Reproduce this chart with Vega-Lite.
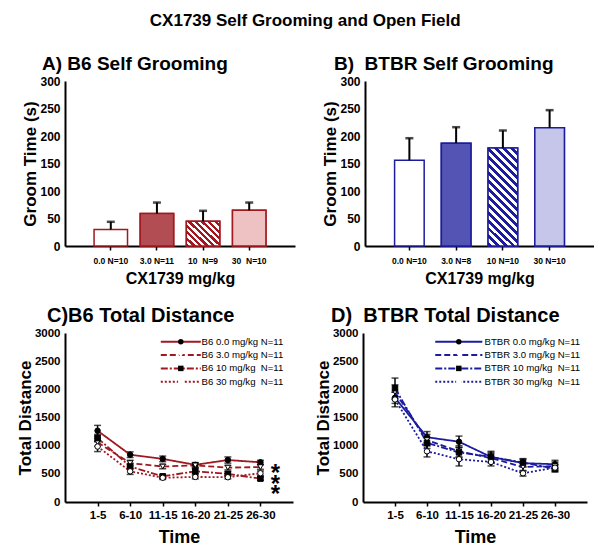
{
  "$schema": "https://vega.github.io/schema/vega-lite/v6.json",
  "background": "white",
  "padding": {"left": 16, "top": 12, "right": 0, "bottom": 0},
  "title": {"text": "CX1739 Self Grooming and Open Field", "fontSize": 17, "fontWeight": "bold", "color": "black", "anchor": "middle", "offset": 25},
  "config": {
    "font": "Liberation Sans",
    "view": {"stroke": null},
    "axis": {"domainColor": "black", "domainWidth": 2, "tickColor": "black", "tickWidth": 1.5, "tickSize": 4, "labelColor": "black", "titleColor": "black", "labelFontWeight": "bold", "titleFontWeight": "bold", "grid": false, "labelOverlap": false},
    "axisY": {"ticks": false, "labelPadding": 5, "titlePadding": 0, "format": "d"},
    "axisX": {"labelPadding": 6},
    "title": {"color": "black"}
  },
  "resolve": {"scale": {"strokeDash": "independent", "shape": "independent", "fill": "independent"}, "legend": {"strokeDash": "independent", "shape": "independent", "fill": "independent"}},
  "datasets": {
    "b6groom": [
      {"mgkg": "0.0", "dose": "0.0 N=10", "mean": 30, "hi": 44},
      {"mgkg": "3.0", "dose": "3.0 N=11", "mean": 59, "hi": 79},
      {"mgkg": "10", "dose": "10\u00a0 N=9", "mean": 45, "hi": 64},
      {"mgkg": "30", "dose": "30\u00a0 N=10", "mean": 65, "hi": 79}
    ],
    "btbrgroom": [
      {"mgkg": "0.0", "dose": "0.0 N=10", "mean": 156, "hi": 196},
      {"mgkg": "3.0", "dose": "3.0 N=8", "mean": 187, "hi": 216},
      {"mgkg": "10", "dose": "10 N=10", "mean": 178, "hi": 210},
      {"mgkg": "30", "dose": "30 N=10", "mean": 215, "hi": 247}
    ],
    "b6dist": [
      {"group": "B6 0.0 mg/kg N=11", "time": "1-5", "dist": 1265, "lo": 1175, "hi": 1360},
      {"group": "B6 0.0 mg/kg N=11", "time": "6-10", "dist": 840, "lo": 790, "hi": 890},
      {"group": "B6 0.0 mg/kg N=11", "time": "11-15", "dist": 765, "lo": 715, "hi": 815},
      {"group": "B6 0.0 mg/kg N=11", "time": "16-20", "dist": 660, "lo": 620, "hi": 700},
      {"group": "B6 0.0 mg/kg N=11", "time": "21-25", "dist": 745, "lo": 690, "hi": 800},
      {"group": "B6 0.0 mg/kg N=11", "time": "26-30", "dist": 705, "lo": 670, "hi": 740},
      {"group": "B6 3.0 mg/kg N=11", "time": "1-5", "dist": 1060, "lo": 990, "hi": 1130},
      {"group": "B6 3.0 mg/kg N=11", "time": "6-10", "dist": 690, "lo": 640, "hi": 740},
      {"group": "B6 3.0 mg/kg N=11", "time": "11-15", "dist": 630, "lo": 590, "hi": 670},
      {"group": "B6 3.0 mg/kg N=11", "time": "16-20", "dist": 650, "lo": 610, "hi": 690},
      {"group": "B6 3.0 mg/kg N=11", "time": "21-25", "dist": 610, "lo": 570, "hi": 650},
      {"group": "B6 3.0 mg/kg N=11", "time": "26-30", "dist": 620, "lo": 580, "hi": 660},
      {"group": "B6 10 mg/kg\u00a0 N=11", "time": "1-5", "dist": 1135, "lo": 1070, "hi": 1200},
      {"group": "B6 10 mg/kg\u00a0 N=11", "time": "6-10", "dist": 630, "lo": 580, "hi": 680},
      {"group": "B6 10 mg/kg\u00a0 N=11", "time": "11-15", "dist": 455, "lo": 420, "hi": 490},
      {"group": "B6 10 mg/kg\u00a0 N=11", "time": "16-20", "dist": 545, "lo": 500, "hi": 590},
      {"group": "B6 10 mg/kg\u00a0 N=11", "time": "21-25", "dist": 500, "lo": 460, "hi": 540},
      {"group": "B6 10 mg/kg\u00a0 N=11", "time": "26-30", "dist": 415, "lo": 385, "hi": 445},
      {"group": "B6 30 mg/kg\u00a0 N=11", "time": "1-5", "dist": 985, "lo": 895, "hi": 1075},
      {"group": "B6 30 mg/kg\u00a0 N=11", "time": "6-10", "dist": 545, "lo": 490, "hi": 600},
      {"group": "B6 30 mg/kg\u00a0 N=11", "time": "11-15", "dist": 430, "lo": 400, "hi": 460},
      {"group": "B6 30 mg/kg\u00a0 N=11", "time": "16-20", "dist": 445, "lo": 410, "hi": 480},
      {"group": "B6 30 mg/kg\u00a0 N=11", "time": "21-25", "dist": 440, "lo": 410, "hi": 470},
      {"group": "B6 30 mg/kg\u00a0 N=11", "time": "26-30", "dist": 510, "lo": 470, "hi": 550}
    ],
    "btbrdist": [
      {"group": "BTBR 0.0 mg/kg N=11", "time": "1-5", "dist": 1850, "lo": 1750, "hi": 1950},
      {"group": "BTBR 0.0 mg/kg N=11", "time": "6-10", "dist": 1150, "lo": 1050, "hi": 1250},
      {"group": "BTBR 0.0 mg/kg N=11", "time": "11-15", "dist": 1070, "lo": 970, "hi": 1170},
      {"group": "BTBR 0.0 mg/kg N=11", "time": "16-20", "dist": 800, "lo": 700, "hi": 900},
      {"group": "BTBR 0.0 mg/kg N=11", "time": "21-25", "dist": 690, "lo": 620, "hi": 760},
      {"group": "BTBR 0.0 mg/kg N=11", "time": "26-30", "dist": 670, "lo": 600, "hi": 740},
      {"group": "BTBR 3.0 mg/kg N=11", "time": "1-5", "dist": 1950, "lo": 1820, "hi": 2080},
      {"group": "BTBR 3.0 mg/kg N=11", "time": "6-10", "dist": 1100, "lo": 1000, "hi": 1200},
      {"group": "BTBR 3.0 mg/kg N=11", "time": "11-15", "dist": 900, "lo": 800, "hi": 1000},
      {"group": "BTBR 3.0 mg/kg N=11", "time": "16-20", "dist": 780, "lo": 700, "hi": 860},
      {"group": "BTBR 3.0 mg/kg N=11", "time": "21-25", "dist": 620, "lo": 550, "hi": 690},
      {"group": "BTBR 3.0 mg/kg N=11", "time": "26-30", "dist": 640, "lo": 570, "hi": 710},
      {"group": "BTBR 10 mg/kg\u00a0 N=11", "time": "1-5", "dist": 2020, "lo": 1840, "hi": 2200},
      {"group": "BTBR 10 mg/kg\u00a0 N=11", "time": "6-10", "dist": 1050, "lo": 950, "hi": 1150},
      {"group": "BTBR 10 mg/kg\u00a0 N=11", "time": "11-15", "dist": 880, "lo": 790, "hi": 970},
      {"group": "BTBR 10 mg/kg\u00a0 N=11", "time": "16-20", "dist": 800, "lo": 720, "hi": 880},
      {"group": "BTBR 10 mg/kg\u00a0 N=11", "time": "21-25", "dist": 700, "lo": 630, "hi": 770},
      {"group": "BTBR 10 mg/kg\u00a0 N=11", "time": "26-30", "dist": 590, "lo": 530, "hi": 650},
      {"group": "BTBR 30 mg/kg\u00a0 N=11", "time": "1-5", "dist": 1820, "lo": 1690, "hi": 1950},
      {"group": "BTBR 30 mg/kg\u00a0 N=11", "time": "6-10", "dist": 900, "lo": 800, "hi": 1000},
      {"group": "BTBR 30 mg/kg\u00a0 N=11", "time": "11-15", "dist": 760, "lo": 640, "hi": 880},
      {"group": "BTBR 30 mg/kg\u00a0 N=11", "time": "16-20", "dist": 710, "lo": 640, "hi": 780},
      {"group": "BTBR 30 mg/kg\u00a0 N=11", "time": "21-25", "dist": 510, "lo": 460, "hi": 560},
      {"group": "BTBR 30 mg/kg\u00a0 N=11", "time": "26-30", "dist": 610, "lo": 550, "hi": 670}
    ],
    "stars": [
      {"time": "26-30", "y": 490},
      {"time": "26-30", "y": 310},
      {"time": "26-30", "y": 130}
    ]
  },
  "spacing": 19,
  "vconcat": [
    {
      "spacing": 26,
      "resolve": {"scale": {"strokeDash": "independent", "shape": "independent", "fill": "independent"}},
      "hconcat": [
        {
          "width": 230, "height": 165,
          "title": {"text": "A) B6 Self Grooming", "anchor": "start", "frame": "group", "fontSize": 19, "fontWeight": "bold", "dx": -23, "offset": 1},
          "data": {"name": "b6groom"},
          "encoding": {
            "x": {"field": "dose", "type": "nominal", "scale": {"domain": ["0.0 N=10", "3.0 N=11", "10\u00a0 N=9", "30\u00a0 N=10"], "paddingInner": 0.275, "paddingOuter": 0.63}, "axis": {"title": "CX1739 mg/kg", "labelAngle": 0, "labelFontSize": 8.5, "titleFontSize": 16, "titlePadding": 6}},
            "y": {"field": "mean", "type": "quantitative", "scale": {"domain": [0, 300]}, "axis": {"title": "Groom Time (s)", "values": [0, 50, 100, 150, 200, 250, 300], "labelFontSize": 12, "titleFontSize": 17}}
          },
          "layer": [
            {"mark": {"type": "bar", "fill": "white", "stroke": "#A01820", "strokeWidth": 1.5}},
            {"transform": [{"filter": "datum.mgkg == '3.0'"}], "mark": {"type": "bar", "fill": "#B24E53", "stroke": "#A01820", "strokeWidth": 1.5}},
            {"transform": [{"filter": "datum.mgkg == '10'"}], "mark": {"type": "bar", "stroke": "#A01820", "strokeWidth": 1.5, "fill": {"gradient": "linear", "x1": 0, "y1": 1, "x2": 1.115, "y2": 0.152, "stops": [
              {"offset": 0, "color": "#A01820"}, {"offset": 0.0556, "color": "#A01820"}, {"offset": 0.0556, "color": "white"}, {"offset": 0.1111, "color": "white"},
              {"offset": 0.1111, "color": "#A01820"}, {"offset": 0.1667, "color": "#A01820"}, {"offset": 0.1667, "color": "white"}, {"offset": 0.2222, "color": "white"},
              {"offset": 0.2222, "color": "#A01820"}, {"offset": 0.2778, "color": "#A01820"}, {"offset": 0.2778, "color": "white"}, {"offset": 0.3333, "color": "white"},
              {"offset": 0.3333, "color": "#A01820"}, {"offset": 0.3889, "color": "#A01820"}, {"offset": 0.3889, "color": "white"}, {"offset": 0.4444, "color": "white"},
              {"offset": 0.4444, "color": "#A01820"}, {"offset": 0.5, "color": "#A01820"}, {"offset": 0.5, "color": "white"}, {"offset": 0.5556, "color": "white"},
              {"offset": 0.5556, "color": "#A01820"}, {"offset": 0.6111, "color": "#A01820"}, {"offset": 0.6111, "color": "white"}, {"offset": 0.6667, "color": "white"},
              {"offset": 0.6667, "color": "#A01820"}, {"offset": 0.7222, "color": "#A01820"}, {"offset": 0.7222, "color": "white"}, {"offset": 0.7778, "color": "white"},
              {"offset": 0.7778, "color": "#A01820"}, {"offset": 0.8333, "color": "#A01820"}, {"offset": 0.8333, "color": "white"}, {"offset": 0.8889, "color": "white"},
              {"offset": 0.8889, "color": "#A01820"}, {"offset": 0.9444, "color": "#A01820"}, {"offset": 0.9444, "color": "white"}, {"offset": 1, "color": "white"}
            ]}}},
            {"transform": [{"filter": "datum.mgkg == '30'"}], "mark": {"type": "bar", "fill": "#EEC2C2", "stroke": "#A01820", "strokeWidth": 1.5}},
            {"mark": {"type": "rule", "color": "black", "strokeWidth": 2}, "encoding": {"y2": {"field": "hi"}}},
            {"mark": {"type": "tick", "color": "black", "thickness": 2.5, "size": 8}, "encoding": {"y": {"field": "hi", "type": "quantitative", "title": "Groom Time (s)"}}}
          ]
        },
        {
          "width": 229, "height": 165,
          "title": {"text": "B)\u00a0 BTBR Self Grooming", "anchor": "start", "frame": "group", "fontSize": 19, "fontWeight": "bold", "dx": -31, "offset": 1},
          "data": {"name": "btbrgroom"},
          "encoding": {
            "x": {"field": "dose", "type": "nominal", "scale": {"domain": ["0.0 N=10", "3.0 N=8", "10 N=10", "30 N=10"], "paddingInner": 0.367, "paddingOuter": 0.633}, "axis": {"title": "CX1739 mg/kg", "labelAngle": 0, "labelFontSize": 8.5, "titleFontSize": 16, "titlePadding": 6}},
            "y": {"field": "mean", "type": "quantitative", "scale": {"domain": [0, 300]}, "axis": {"title": "Groom Time (s)", "values": [0, 50, 100, 150, 200, 250, 300], "labelFontSize": 12, "titleFontSize": 17}}
          },
          "layer": [
            {"mark": {"type": "bar", "fill": "white", "stroke": "#1C1C9C", "strokeWidth": 1.5}},
            {"transform": [{"filter": "datum.mgkg == '3.0'"}], "mark": {"type": "bar", "fill": "#5454B4", "stroke": "#1C1C9C", "strokeWidth": 1.5}},
            {"transform": [{"filter": "datum.mgkg == '10'"}], "mark": {"type": "bar", "stroke": "#1C1C9C", "strokeWidth": 1.5, "fill": {"gradient": "linear", "x1": 0, "y1": 1, "x2": 0.36, "y2": -0.193, "stops": [
              {"offset": 0, "color": "#1C1C9C"}, {"offset": 0.03125, "color": "#1C1C9C"}, {"offset": 0.03125, "color": "white"}, {"offset": 0.0625, "color": "white"},
              {"offset": 0.0625, "color": "#1C1C9C"}, {"offset": 0.09375, "color": "#1C1C9C"}, {"offset": 0.09375, "color": "white"}, {"offset": 0.125, "color": "white"},
              {"offset": 0.125, "color": "#1C1C9C"}, {"offset": 0.15625, "color": "#1C1C9C"}, {"offset": 0.15625, "color": "white"}, {"offset": 0.1875, "color": "white"},
              {"offset": 0.1875, "color": "#1C1C9C"}, {"offset": 0.21875, "color": "#1C1C9C"}, {"offset": 0.21875, "color": "white"}, {"offset": 0.25, "color": "white"},
              {"offset": 0.25, "color": "#1C1C9C"}, {"offset": 0.28125, "color": "#1C1C9C"}, {"offset": 0.28125, "color": "white"}, {"offset": 0.3125, "color": "white"},
              {"offset": 0.3125, "color": "#1C1C9C"}, {"offset": 0.34375, "color": "#1C1C9C"}, {"offset": 0.34375, "color": "white"}, {"offset": 0.375, "color": "white"},
              {"offset": 0.375, "color": "#1C1C9C"}, {"offset": 0.40625, "color": "#1C1C9C"}, {"offset": 0.40625, "color": "white"}, {"offset": 0.4375, "color": "white"},
              {"offset": 0.4375, "color": "#1C1C9C"}, {"offset": 0.46875, "color": "#1C1C9C"}, {"offset": 0.46875, "color": "white"}, {"offset": 0.5, "color": "white"},
              {"offset": 0.5, "color": "#1C1C9C"}, {"offset": 0.53125, "color": "#1C1C9C"}, {"offset": 0.53125, "color": "white"}, {"offset": 0.5625, "color": "white"},
              {"offset": 0.5625, "color": "#1C1C9C"}, {"offset": 0.59375, "color": "#1C1C9C"}, {"offset": 0.59375, "color": "white"}, {"offset": 0.625, "color": "white"},
              {"offset": 0.625, "color": "#1C1C9C"}, {"offset": 0.65625, "color": "#1C1C9C"}, {"offset": 0.65625, "color": "white"}, {"offset": 0.6875, "color": "white"},
              {"offset": 0.6875, "color": "#1C1C9C"}, {"offset": 0.71875, "color": "#1C1C9C"}, {"offset": 0.71875, "color": "white"}, {"offset": 0.75, "color": "white"},
              {"offset": 0.75, "color": "#1C1C9C"}, {"offset": 0.78125, "color": "#1C1C9C"}, {"offset": 0.78125, "color": "white"}, {"offset": 0.8125, "color": "white"},
              {"offset": 0.8125, "color": "#1C1C9C"}, {"offset": 0.84375, "color": "#1C1C9C"}, {"offset": 0.84375, "color": "white"}, {"offset": 0.875, "color": "white"},
              {"offset": 0.875, "color": "#1C1C9C"}, {"offset": 0.90625, "color": "#1C1C9C"}, {"offset": 0.90625, "color": "white"}, {"offset": 0.9375, "color": "white"},
              {"offset": 0.9375, "color": "#1C1C9C"}, {"offset": 0.96875, "color": "#1C1C9C"}, {"offset": 0.96875, "color": "white"}, {"offset": 1, "color": "white"}
            ]}}},
            {"transform": [{"filter": "datum.mgkg == '30'"}], "mark": {"type": "bar", "fill": "#C6C6EA", "stroke": "#1C1C9C", "strokeWidth": 1.5}},
            {"mark": {"type": "rule", "color": "black", "strokeWidth": 2}, "encoding": {"y2": {"field": "hi"}}},
            {"mark": {"type": "tick", "color": "black", "thickness": 2.5, "size": 8}, "encoding": {"y": {"field": "hi", "type": "quantitative", "title": "Groom Time (s)"}}}
          ]
        }
      ]
    },
    {
      "spacing": 21,
      "resolve": {"scale": {"strokeDash": "independent", "shape": "independent", "fill": "independent"}},
      "hconcat": [
        {
          "width": 228, "height": 169,
          "title": {"text": "C)B6 Total Distance", "anchor": "start", "frame": "group", "fontSize": 20, "fontWeight": "bold", "dx": -18, "offset": 1},
          "data": {"name": "b6dist"},
          "encoding": {
            "x": {"field": "time", "type": "nominal", "scale": {"type": "point", "domain": ["1-5", "6-10", "11-15", "16-20", "21-25", "26-30"], "padding": 1}, "axis": {"title": "Time", "labelAngle": 0, "labelFontSize": 11.5, "titleFontSize": 18, "titlePadding": 8, "labelPadding": 3}},
            "y": {"field": "dist", "type": "quantitative", "scale": {"domain": [0, 3000]}, "axis": {"title": "Total Distance", "values": [0, 500, 1000, 1500, 2000, 2500, 3000], "labelFontSize": 11.5, "titleFontSize": 17, "titlePadding": 0}}
          },
          "layer": [
            {"mark": {"type": "rule", "color": "black", "strokeWidth": 1.5}, "encoding": {"y": {"field": "lo", "type": "quantitative", "title": "Total Distance"}, "y2": {"field": "hi"}}},
            {"mark": {"type": "tick", "color": "black", "thickness": 1.5, "size": 7}, "encoding": {"y": {"field": "lo", "type": "quantitative", "title": "Total Distance"}}},
            {"mark": {"type": "tick", "color": "black", "thickness": 1.5, "size": 7}, "encoding": {"y": {"field": "hi", "type": "quantitative", "title": "Total Distance"}}},
            {"mark": {"type": "line", "color": "#A01820", "strokeWidth": 1.8}, "encoding": {
              "order": {"value": null},
              "strokeDash": {"field": "group", "type": "nominal", "sort": null, "scale": {"range": [[1, 0], [6, 3], [7, 2, 2, 2], [2, 2]]},
                "legend": {"orient": "none", "legendX": 111, "legendY": 4, "title": null, "symbolType": "M-7.3,0H7.3", "symbolSize": 30, "symbolStrokeWidth": 2, "symbolStrokeColor": "#A01820", "symbolFillColor": "transparent", "labelFontSize": 9.6, "labelColor": "black", "labelOffset": 16, "rowPadding": 2.3, "padding": 0}}
            }},
            {"mark": {"type": "point", "filled": true, "stroke": "black", "strokeWidth": 1, "size": 30, "opacity": 1}, "encoding": {
              "shape": {"field": "group", "type": "nominal", "scale": {"domain": ["B6 0.0 mg/kg N=11", "B6 3.0 mg/kg N=11", "B6 10 mg/kg\u00a0 N=11", "B6 30 mg/kg\u00a0 N=11"], "range": ["circle", "triangle-down", "square", "circle"]},
                "legend": {"orient": "none", "legendX": 111, "legendY": 4, "title": null, "symbolSize": 30, "symbolStrokeWidth": 1, "symbolStrokeColor": "black", "labelFontSize": 9.6, "labelColor": "transparent", "labelOffset": 16, "rowPadding": 2.3, "padding": 0, "zindex": 1}},
              "fill": {"field": "group", "type": "nominal", "scale": {"domain": ["B6 0.0 mg/kg N=11", "B6 3.0 mg/kg N=11", "B6 10 mg/kg\u00a0 N=11", "B6 30 mg/kg\u00a0 N=11"], "range": ["black", "white", "black", "white"]},
                "legend": {"orient": "none", "legendX": 111, "legendY": 4, "title": null, "symbolSize": 30, "symbolStrokeWidth": 1, "symbolStrokeColor": "black", "labelFontSize": 9.6, "labelColor": "transparent", "labelOffset": 16, "rowPadding": 2.3, "padding": 0, "zindex": 1}}
            }},
            {"data": {"name": "stars"}, "mark": {"type": "text", "text": "*", "fontSize": 24, "fontWeight": "bold", "color": "black", "dx": 15, "baseline": "middle"}, "encoding": {"y": {"field": "y", "type": "quantitative", "title": "Total Distance"}}}
          ]
        },
        {
          "width": 224, "height": 169,
          "title": {"text": "D)\u00a0 BTBR Total Distance", "anchor": "start", "frame": "group", "fontSize": 20, "fontWeight": "bold", "dx": -32, "offset": 1},
          "data": {"name": "btbrdist"},
          "encoding": {
            "x": {"field": "time", "type": "nominal", "scale": {"type": "point", "domain": ["1-5", "6-10", "11-15", "16-20", "21-25", "26-30"], "padding": 1}, "axis": {"title": "Time", "labelAngle": 0, "labelFontSize": 11.5, "titleFontSize": 18, "titlePadding": 8, "labelPadding": 3}},
            "y": {"field": "dist", "type": "quantitative", "scale": {"domain": [0, 3000]}, "axis": {"title": "Total Distance", "values": [0, 500, 1000, 1500, 2000, 2500, 3000], "labelFontSize": 11.5, "titleFontSize": 17, "titlePadding": 0}}
          },
          "layer": [
            {"mark": {"type": "rule", "color": "black", "strokeWidth": 1.5}, "encoding": {"y": {"field": "lo", "type": "quantitative", "title": "Total Distance"}, "y2": {"field": "hi"}}},
            {"mark": {"type": "tick", "color": "black", "thickness": 1.5, "size": 7}, "encoding": {"y": {"field": "lo", "type": "quantitative", "title": "Total Distance"}}},
            {"mark": {"type": "tick", "color": "black", "thickness": 1.5, "size": 7}, "encoding": {"y": {"field": "hi", "type": "quantitative", "title": "Total Distance"}}},
            {"mark": {"type": "line", "color": "#1C1CA0", "strokeWidth": 1.8}, "encoding": {
              "order": {"value": null},
              "strokeDash": {"field": "group", "type": "nominal", "sort": null, "scale": {"range": [[1, 0], [6, 3], [7, 2, 2, 2], [2, 2]]},
                "legend": {"orient": "none", "legendX": 91, "legendY": 4, "title": null, "symbolType": "M-8.6,0H8.6", "symbolSize": 30, "symbolStrokeWidth": 2, "symbolStrokeColor": "#1C1CA0", "symbolFillColor": "transparent", "labelFontSize": 9.6, "labelColor": "black", "labelOffset": 21, "rowPadding": 2.3, "padding": 0}}
            }},
            {"mark": {"type": "point", "filled": true, "stroke": "black", "strokeWidth": 1, "size": 30, "opacity": 1}, "encoding": {
              "shape": {"field": "group", "type": "nominal", "scale": {"domain": ["BTBR 0.0 mg/kg N=11", "BTBR 3.0 mg/kg N=11", "BTBR 10 mg/kg\u00a0 N=11", "BTBR 30 mg/kg\u00a0 N=11"], "range": ["circle", "triangle-down", "square", "circle"]},
                "legend": {"orient": "none", "legendX": 91, "legendY": 4, "title": null, "symbolSize": 30, "symbolStrokeWidth": 1, "symbolStrokeColor": "black", "labelFontSize": 9.6, "labelColor": "transparent", "labelOffset": 21, "rowPadding": 2.3, "padding": 0, "zindex": 1}},
              "fill": {"field": "group", "type": "nominal", "scale": {"domain": ["BTBR 0.0 mg/kg N=11", "BTBR 3.0 mg/kg N=11", "BTBR 10 mg/kg\u00a0 N=11", "BTBR 30 mg/kg\u00a0 N=11"], "range": ["black", "white", "black", "white"]},
                "legend": {"orient": "none", "legendX": 91, "legendY": 4, "title": null, "symbolSize": 30, "symbolStrokeWidth": 1, "symbolStrokeColor": "black", "labelFontSize": 9.6, "labelColor": "transparent", "labelOffset": 21, "rowPadding": 2.3, "padding": 0, "zindex": 1}}
            }}
          ]
        }
      ]
    }
  ]
}
